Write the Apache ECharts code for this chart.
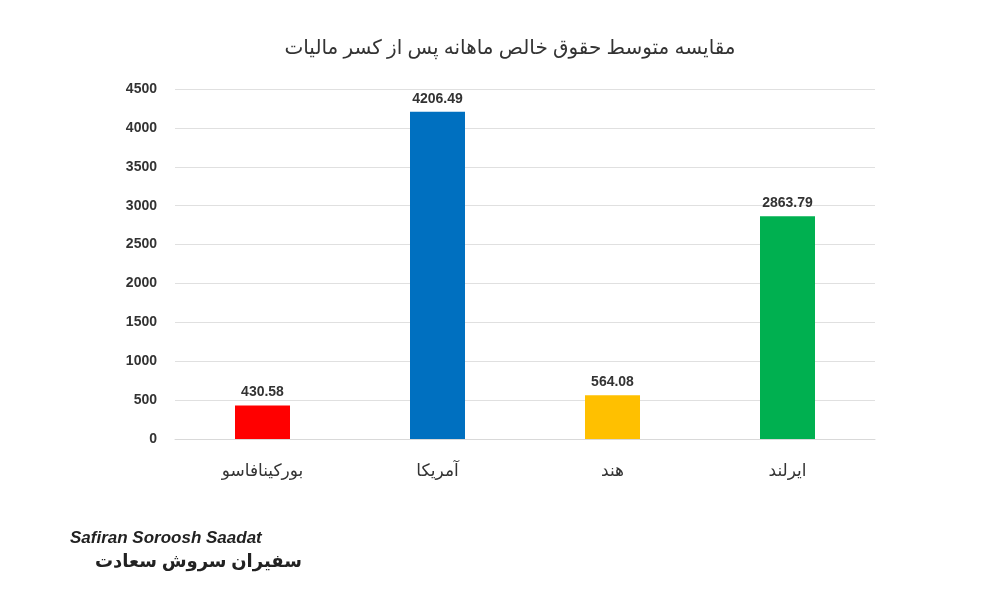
<!DOCTYPE html>
<html><head><meta charset="utf-8">
<script src="https://cdn.jsdelivr.net/npm/echarts@6/dist/echarts.min.js"></script>
<style>html,body{margin:0;background:#fff}#c{width:1000px;height:600px}</style>
</head><body><div id="c"></div>
<script>
const categories = ['بورکینافاسو','آمریکا','هند','ایرلند'];
const values = [430.58, 4206.49, 564.08, 2863.79];
const colors = ['#ff0000','#0070c0','#ffc000','#00b050'];
const chart = echarts.init(document.getElementById('c'));
chart.setOption({
  backgroundColor:'#fff',
  title:{text:'مقایسه متوسط حقوق خالص ماهانه پس از کسر مالیات',left:505,textAlign:'center',top:33,
    textStyle:{fontFamily:'Noto Sans, DejaVu Sans',fontSize:20,fontWeight:'normal',color:'#333'}},
  grid:{left:175,right:125,top:89,bottom:161},
  xAxis:{type:'category',data:categories,axisTick:{show:false},
    axisLine:{lineStyle:{color:'#d9d9d9'}},
    axisLabel:{margin:24,fontSize:17,color:'#333',fontFamily:'Noto Sans, DejaVu Sans'}},
  yAxis:{type:'value',min:0,max:4500,interval:500,
    axisLabel:{fontSize:14,fontWeight:'bold',color:'#333',margin:18,formatter:v=>String(v)},
    splitLine:{lineStyle:{color:'#e0e0e0'}}},
  series:[{type:'bar',barWidth:55,
    data:values.map((v,i)=>({value:v,itemStyle:{color:colors[i]}})),
    label:{show:true,position:'top',fontSize:14,fontWeight:'bold',color:'#333',distance:6,
      formatter:p=>p.value.toFixed(2)}}],
  graphic:[
    {type:'text',left:70,top:530,style:{text:'Safiran Soroosh Saadat',fontSize:17,fontWeight:'bold',fontStyle:'italic',fill:'#222'}},
    {type:'text',left:95,top:553,style:{text:'سفیران سروش سعادت',fontSize:18,fontWeight:'bold',fill:'#222',fontFamily:'Noto Sans, DejaVu Sans'}}
  ]
});
</script></body></html>
